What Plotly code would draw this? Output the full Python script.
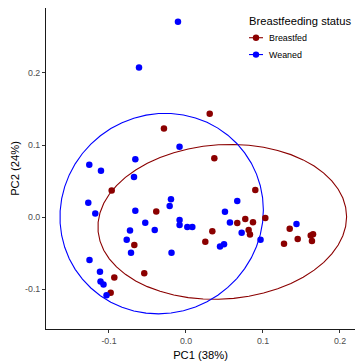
import numpy as np
import plotly.graph_objects as go

# ---- data ----
bf_x = [-0.0286, 0.0308, 0.0368, 0.0900, -0.0965, -0.0386, -0.0671, -0.0931, -0.0542, -0.0978,
        0.0666, 0.0770, 0.0870, 0.1030, 0.0342, 0.0814, 0.0831, 0.0251, 0.1347, 0.1451,
        0.1273, 0.1620, 0.1650, 0.1636]
bf_y = [0.1228, 0.1435, 0.0816, 0.0376, 0.0367, 0.0078, -0.0389, -0.0839, -0.0780, -0.1052,
        -0.0083, -0.0028, -0.0073, -0.0014, -0.0197, -0.0179, -0.0243, -0.0344, -0.0161, -0.0303,
        -0.0371, -0.0257, -0.0238, -0.0334]
wn_x = [-0.0104, -0.0610, -0.1256, -0.1104, -0.0658, -0.0675, -0.0084, -0.0195, -0.0212, -0.0083,
        -0.0083, 0.0017, 0.0082, -0.1269, -0.1178, -0.0658, -0.0529, -0.0406, -0.0727, -0.0770,
        -0.0714, -0.0188, -0.1253, -0.1117, -0.1110, -0.1071, -0.1032, 0.0666, 0.0506, 0.0571,
        0.0723, 0.0494, 0.0442, 0.0968, 0.1435]
wn_y = [0.2710, 0.2077, 0.0725, 0.0642, 0.0802, 0.0557, 0.0977, 0.0248, 0.0155, -0.0041,
        -0.0110, -0.0138, -0.0138, 0.0199, 0.0051, 0.0089, -0.0078, -0.0179, -0.0188, -0.0316,
        -0.0495, -0.0495, -0.0596, -0.0759, -0.0894, -0.0938, -0.1084, 0.0224, 0.0073, -0.0076,
        -0.0217, -0.0378, -0.0409, -0.0316, -0.0096]
groups = ["Breastfed", "Weaned"]
colors = ["#8B0000", "#0000FF"]
# 95% ellipse parameters (centre, half-extent in x / y, correlation)
ell_cx = [0.0471, -0.0316]
ell_cy = [-0.0067, 0.0048]
ell_sx = [0.1615, 0.1321]
ell_sy = [0.1075, 0.1392]
ell_rho = [0.066, 0.035]
x_ticks = [-0.1, 0.0, 0.1, 0.2]
y_ticks = [-0.1, 0.0, 0.1, 0.2]
x_tick_labels = ["-0.1", "0.0", "0.1", "0.2"]
y_tick_labels = ["-0.1", "0.0", "0.1", "0.2"]
legend_title = "Breastfeeding status"


def ellipse(cx, cy, sx, sy, rho, segments=51):
    M = np.array([[sx * sx, rho * sx * sy], [rho * sx * sy, sy * sy]])
    L = np.linalg.cholesky(M)
    ang = np.arange(segments + 1) * 2 * np.pi / segments
    pts = L @ np.vstack([np.cos(ang), np.sin(ang)])
    return cx + pts[0], cy + pts[1]


fig = go.Figure()
data = [(bf_x, bf_y), (wn_x, wn_y)]
for i, c in enumerate(colors):
    ex, ey = ellipse(ell_cx[i], ell_cy[i], ell_sx[i], ell_sy[i], ell_rho[i])
    fig.add_trace(go.Scatter(x=ex, y=ey, mode="lines", line=dict(color=c, width=1.1),
                             showlegend=False, hoverinfo="skip"))
for g, c, (xs, ys) in zip(groups, colors, data):
    fig.add_trace(go.Scatter(x=xs, y=ys, mode="markers", marker=dict(color=c, size=6.5),
                             showlegend=False, name=g))

# plot area geometry (pixels) for a hand-built legend
W, H = 357, 361
ML, MR, MT, MB = 46, 2, 8, 29
PW, PH = W - ML - MR, H - MT - MB


def px(x):
    return (x - ML) / PW


def py(y):
    return (H - MB - y) / PH


font = "Liberation Sans, Arial, sans-serif"
shapes = []
annotations = [dict(text=legend_title, x=px(247), y=py(21), xref="paper", yref="paper",
                    xanchor="left", yanchor="middle", showarrow=False,
                    font=dict(size=11.2, color="black"))]
for i, (g, c) in enumerate(zip(groups, colors)):
    yc = 38 + 17 * i
    shapes.append(dict(type="line", xref="paper", yref="paper", x0=px(249), x1=px(263),
                       y0=py(yc), y1=py(yc), line=dict(color=c, width=1.1)))
    shapes.append(dict(type="circle", xref="paper", yref="paper", x0=px(252.8), x1=px(259.2),
                       y0=py(yc + 3.2), y1=py(yc - 3.2), fillcolor=c, line=dict(width=0)))
    annotations.append(dict(text=g, x=px(266.5), y=py(yc), xref="paper", yref="paper",
                            xanchor="left", yanchor="middle", showarrow=False,
                            font=dict(size=8.9, color="black")))

fig.update_layout(
    width=W, height=H,
    margin=dict(l=ML, r=MR, t=MT, b=MB),
    plot_bgcolor="white", paper_bgcolor="white",
    font=dict(family=font, color="black"),
    showlegend=False,
    shapes=shapes,
    annotations=annotations,
)
fig.update_xaxes(range=[-0.1818, 0.2195], tickvals=x_ticks, ticktext=x_tick_labels,
                 showgrid=False, zeroline=False, showline=True, linecolor="#1a1a1a", linewidth=1,
                 ticks="outside", ticklen=3, tickcolor="#333333", tickwidth=1,
                 tickfont=dict(size=8.8, color="#4D4D4D"),
                 title=dict(text="PC1 (38%)", font=dict(size=11.2), standoff=6))
fig.update_yaxes(range=[-0.1554, 0.2902], tickvals=y_ticks, ticktext=y_tick_labels,
                 showgrid=False, zeroline=False, showline=True, linecolor="#1a1a1a", linewidth=1,
                 ticks="outside", ticklen=3, tickcolor="#333333", tickwidth=1,
                 tickfont=dict(size=8.8, color="#4D4D4D"),
                 title=dict(text="PC2 (24%)", font=dict(size=11.2), standoff=3))

fig.write_html("out.html")
